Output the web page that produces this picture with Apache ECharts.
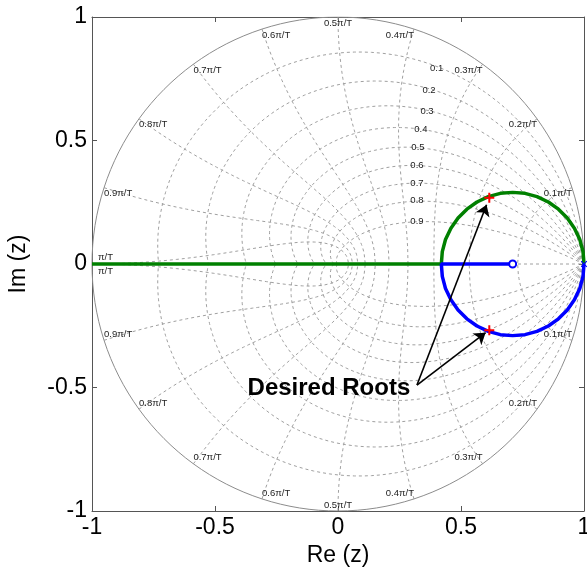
<!DOCTYPE html>
<html>
<head>
<meta charset="utf-8">
<script src="https://cdn.jsdelivr.net/npm/echarts@6/dist/echarts.min.js"></script>
<style>
  html, body { margin: 0; padding: 0; background: #fff; }
  #chart { width: 587px; height: 571px; }
</style>
</head>
<body>
<div id="chart"></div>
<script>
// tick values on both axes
const xTicks = [-1, -0.5, 0, 0.5, 1]
const yTicks = [-1, -0.5, 0, 0.5, 1]

// root locus branches, [Re, Im]
const greenBranch = [
  [1.000, 0.000], [0.996, 0.050], [0.983, 0.099], [0.961, 0.145], [0.932, 0.186],
  [0.896, 0.222], [0.855, 0.251], [0.809, 0.273], [0.760, 0.286], [0.710, 0.290],
  [0.660, 0.286], [0.611, 0.273], [0.565, 0.251], [0.524, 0.222], [0.488, 0.186],
  [0.459, 0.145], [0.437, 0.099], [0.424, 0.050], [0.420, 0.000], [-1.000, 0.000]
]
const blueBranch = [
  [1.000, 0.000], [0.996, -0.050], [0.983, -0.099], [0.961, -0.145], [0.932, -0.186],
  [0.896, -0.222], [0.855, -0.251], [0.809, -0.273], [0.760, -0.286], [0.710, -0.290],
  [0.660, -0.286], [0.611, -0.273], [0.565, -0.251], [0.524, -0.222], [0.488, -0.186],
  [0.459, -0.145], [0.437, -0.099], [0.424, -0.050], [0.420, 0.000], [0.710, 0.000]
]
const poles = [[1.0, 0.0]]
const zeros = [[0.71, 0.0]]
const desiredRoots = [[0.615, 0.268], [0.615, -0.268]]

// annotation
const annotText = 'Desired Roots'
const annotPos = [-0.037, -0.502]
const arrowStart = [0.321, -0.49]
const arrowEnds = [[0.604, 0.240], [0.600, -0.278]]

// zgrid: damping ratios and natural frequencies (multiples of pi/T)
const zetaValues = [0.1, 0.2, 0.3, 0.4, 0.5, 0.6, 0.7, 0.8, 0.9]
const zetaLabelPos = [
  [0.401, 0.792], [0.370, 0.704], [0.362, 0.619], [0.337, 0.547], [0.325, 0.474],
  [0.321, 0.401], [0.321, 0.328], [0.321, 0.259], [0.321, 0.174]
]
const wnValues = [0.1, 0.2, 0.3, 0.4, 0.5, 0.6, 0.7, 0.8, 0.9, 1.0]
const wnLabels = ['0.1\u03c0/T', '0.2\u03c0/T', '0.3\u03c0/T', '0.4\u03c0/T', '0.5\u03c0/T',
  '0.6\u03c0/T', '0.7\u03c0/T', '0.8\u03c0/T', '0.9\u03c0/T', '\u03c0/T']

const FONT = '"Liberation Sans", Arial, sans-serif'
const GRID_COLOR = '#a0a0a0'
const AXIS_COLOR = '#555'

// grid curve helpers
const zetaCurve = (zeta, sign) => {
  const pts = []
  const n = 80
  for (let i = 0; i <= n; i++) {
    const w = Math.PI * i / n
    const r = Math.exp(-zeta * w / Math.sqrt(1 - zeta * zeta))
    pts.push([r * Math.cos(w), sign * r * Math.sin(w)])
  }
  return pts
}
const wnCurve = (k, sign) => {
  const pts = []
  const n = 60
  const wn = k * Math.PI
  for (let i = 0; i <= n; i++) {
    const z = i / n
    const r = Math.exp(-wn * z)
    const a = wn * Math.sqrt(1 - z * z)
    pts.push([r * Math.cos(a), sign * r * Math.sin(a)])
  }
  return pts
}

const gridLine = (data, solid) => ({
  type: 'line', data, showSymbol: false, symbol: 'none', silent: true,
  animation: false, z: 1,
  lineStyle: { color: solid ? '#8c8c8c' : GRID_COLOR, width: 1, type: solid ? 'solid' : [3, 3] }
})

const series = []
zetaValues.forEach(z => {
  series.push(gridLine(zetaCurve(z, 1)))
  series.push(gridLine(zetaCurve(z, -1)))
})
wnValues.forEach(k => {
  series.push(gridLine(wnCurve(k, 1)))
  series.push(gridLine(wnCurve(k, -1)))
})
series.push(gridLine([[0, 0], [1, 0]]))
series.push(gridLine(zetaCurve(0, 1), true))
series.push(gridLine(zetaCurve(0, -1), true))

// grid labels
const labelStyle = { show: true, fontSize: 9.5, fontFamily: FONT, color: '#222', position: [0, 0] }
const wnLabelData = []
wnValues.forEach((k, i) => {
  const a = k * Math.PI
  const cx = Math.cos(a), sy = Math.sin(a)
  let align = 'center'
  if (cx > 0.01) align = 'right'
  if (cx < -0.01) align = 'left'
  if (k === 1) {
    wnLabelData.push({ value: [-1, 0], name: wnLabels[i], label: { align: 'left', verticalAlign: 'bottom', offset: [6, -2] } })
    wnLabelData.push({ value: [-1, 0], name: wnLabels[i], label: { align: 'left', verticalAlign: 'top', offset: [6, 2] } })
  } else {
    wnLabelData.push({ value: [cx, sy], name: wnLabels[i], label: { align, verticalAlign: 'top', offset: [0, 1] } })
    wnLabelData.push({ value: [cx, -sy], name: wnLabels[i], label: { align, verticalAlign: 'bottom', offset: [0, -1] } })
  }
})
series.push({
  type: 'scatter', data: wnLabelData, symbolSize: 0, silent: true, animation: false, z: 2,
  itemStyle: { opacity: 1 },
  label: Object.assign({}, labelStyle, { formatter: p => p.name })
})
series.push({
  type: 'scatter', silent: true, animation: false, z: 2, symbolSize: 0,
  itemStyle: { opacity: 1 },
  data: zetaLabelPos.map((p, i) => ({ value: p, name: String(zetaValues[i]) })),
  label: Object.assign({}, labelStyle, { formatter: p => p.name, align: 'center', verticalAlign: 'middle' })
})

// root locus
series.push({
  type: 'line', data: greenBranch, showSymbol: false, symbol: 'none', animation: false, z: 5,
  lineStyle: { color: '#008000', width: 3.5 }
})
series.push({
  type: 'line', data: blueBranch, showSymbol: false, symbol: 'none', animation: false, z: 5,
  lineStyle: { color: '#0000ff', width: 3.5 }
})
series.push({
  type: 'scatter', data: zeros, symbol: 'emptyCircle', symbolSize: 7, animation: false, z: 6,
  itemStyle: { color: '#0000ff', borderColor: '#0000ff', borderWidth: 1.2, opacity: 1 }
})
series.push({
  type: 'scatter', data: poles, animation: false, z: 6, symbolSize: 8, symbolRotate: 45,
  symbol: 'path://M-1,-0.12H1V0.12H-1ZM-0.12,-1H0.12V1H-0.12Z',
  itemStyle: { color: '#0000ff', opacity: 1 }
})

// annotation arrows + text
series.push({
  type: 'lines', coordinateSystem: 'cartesian2d', animation: false, z: 8, silent: true,
  symbol: ['none', 'arrow'], symbolSize: 11,
  lineStyle: { color: '#000', width: 1.6, opacity: 1, curveness: 0 },
  data: arrowEnds.map(e => ({ coords: [arrowStart, e] }))
})
series.push({
  type: 'scatter', data: [{ value: annotPos, name: annotText }], symbolSize: 0, silent: true,
  animation: false, z: 9, itemStyle: { opacity: 1 },
  label: {
    show: true, position: [0, 0], align: 'center', verticalAlign: 'middle',
    formatter: p => p.name, fontSize: 24, fontWeight: 'bold', fontFamily: FONT, color: '#000'
  }
})
series.push({
  type: 'scatter', data: desiredRoots, animation: false, z: 10, symbolSize: 10,
  symbol: 'path://M-1,-0.2H1V0.2H-1ZM-0.2,-1H0.2V1H-0.2Z',
  itemStyle: { color: '#ff0000', opacity: 1 }
})

const axisBase = {
  type: 'value', min: -1, max: 1, interval: 0.5,
  axisLine: { show: true, onZero: false, lineStyle: { color: AXIS_COLOR, width: 1 } },
  axisTick: { show: true, inside: true, length: 5, lineStyle: { color: AXIS_COLOR } },
  splitLine: { show: false }
}
const labelBase = { fontSize: 23, fontFamily: FONT, color: '#000', showMinLabel: true, showMaxLabel: true }

const chart = echarts.init(document.getElementById('chart'))
chart.setOption({
  backgroundColor: '#fff',
  animation: false,
  grid: { left: 92, right: 3, top: 17, bottom: 60, outerBoundsMode: 'none' },
  xAxis: [
    Object.assign({}, axisBase, {
      position: 'bottom',
      axisLabel: Object.assign({}, labelBase, { margin: 5, formatter: v => String(v) }),
      name: 'Re (z)', nameLocation: 'middle', nameGap: 33,
      nameTextStyle: { fontSize: 23, fontFamily: FONT, color: '#000' }
    }),
    Object.assign({}, axisBase, { position: 'top', axisLabel: { show: false } })
  ],
  yAxis: [
    Object.assign({}, axisBase, {
      position: 'left',
      axisLabel: Object.assign({}, labelBase, { margin: 5, formatter: v => String(v) }),
      name: 'Im (z)', nameLocation: 'middle', nameGap: 62, nameRotate: 90,
      nameTextStyle: { fontSize: 23, fontFamily: FONT, color: '#000' }
    }),
    Object.assign({}, axisBase, { position: 'right', axisLabel: { show: false } })
  ],
  series
})
</script>
</body>
</html>
